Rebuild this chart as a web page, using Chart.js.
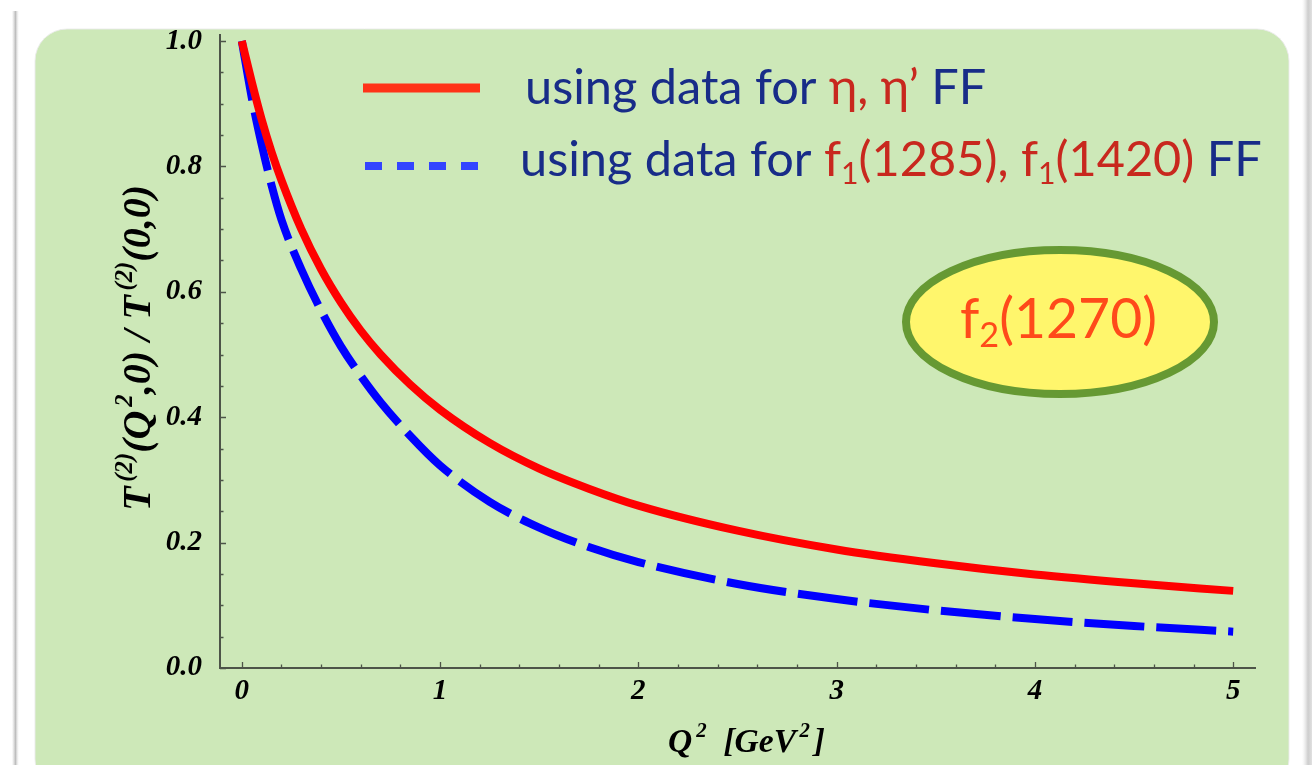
<!DOCTYPE html>
<html>
<head>
<meta charset="utf-8">
<script src="https://cdn.jsdelivr.net/npm/chart.js@4.4.1/dist/chart.umd.min.js"></script>
<style>
  html, body { margin: 0; padding: 0; background: #fff; }
  #wrap { width: 1312px; height: 765px; position: relative; }
  canvas { display: block; }
</style>
</head>
<body>
<div id="wrap"><canvas id="c" width="1312" height="765"></canvas></div>
<script>
// Q^2 grid in GeV^2
const q2 = [0, 0.05, 0.1, 0.15, 0.2, 0.3, 0.4, 0.5, 0.6, 0.7, 0.85, 1.0, 1.25, 1.5, 1.75, 2.0, 2.5, 3.0, 3.5, 4.0, 4.5, 5.0];
// T(2)(Q^2,0)/T(2)(0,0) using eta, eta' transition form factors
const etaRatio = [1.0, 0.935, 0.875, 0.823, 0.778, 0.700, 0.636, 0.583, 0.538, 0.500, 0.452, 0.412, 0.359, 0.318, 0.286, 0.259, 0.219, 0.189, 0.167, 0.149, 0.135, 0.123];
// same ratio using f1(1285), f1(1420) form factors
const f1Ratio = [1.0, 0.910, 0.835, 0.770, 0.715, 0.636, 0.570, 0.513, 0.466, 0.424, 0.370, 0.323, 0.265, 0.224, 0.193, 0.169, 0.134, 0.110, 0.092, 0.078, 0.067, 0.058];

const xTicks = [0, 1, 2, 3, 4, 5];
const yTicks = [0.0, 0.2, 0.4, 0.6, 0.8, 1.0];

const SERIF = '"Liberation Serif", "DejaVu Serif", serif';
const SANS = 'Lato, "Open Sans", "Noto Sans", sans-serif';

function toPoints(xs, ys) { return xs.map((x, i) => ({ x: x, y: ys[i] })); }

// draw a sequence of text runs (with optional sub/superscripts); returns total width
function runs(ctx, items, x, y, size, family, style, doDraw) {
  let cx = x;
  for (const it of items) {
    const s = (it.sub || it.sup) ? size * 0.62 : size;
    ctx.font = style + ' ' + s.toFixed(2) + 'px ' + family;
    const dy = it.sub ? size * 0.16 : (it.sup ? -size * 0.45 : 0);
    cx += (it.pre || 0) * size;
    if (doDraw) {
      ctx.fillStyle = it.color || '#000';
      ctx.fillText(it.t, cx, y + dy);
    }
    cx += ctx.measureText(it.t).width;
  }
  return cx - x;
}
function fitSize(ctx, items, family, style, target, base) {
  const w = runs(ctx, items, 0, 0, base, family, style, false);
  return base * target / w;
}

const backdrop = {
  id: 'backdrop',
  beforeDraw(chart) {
    const ctx = chart.ctx;
    ctx.save();
    ctx.fillStyle = '#ffffff';
    ctx.fillRect(0, 0, chart.width, chart.height);
    // slide frame edges
    let g = ctx.createLinearGradient(12, 0, 19, 0);
    g.addColorStop(0, 'rgba(200,200,200,0)');
    g.addColorStop(0.5, 'rgba(190,190,190,1)');
    g.addColorStop(1, 'rgba(230,230,230,0)');
    ctx.fillStyle = g;
    ctx.fillRect(12, 11, 7, chart.height);
    g = ctx.createLinearGradient(1302, 0, 1312, 0);
    g.addColorStop(0, 'rgba(230,230,230,0)');
    g.addColorStop(0.6, 'rgba(205,205,205,1)');
    g.addColorStop(1, 'rgba(225,225,225,1)');
    ctx.fillStyle = g;
    ctx.fillRect(1302, 0, 10, chart.height);
    // green panel
    ctx.beginPath();
    ctx.roundRect(35, 29, 1254, 762, 32);
    ctx.fillStyle = 'rgb(205,232,184)';
    ctx.fill();
    ctx.lineWidth = 1;
    ctx.strokeStyle = 'rgba(235,235,235,0.9)';
    ctx.stroke();
    ctx.restore();
  },
  beforeDatasetsDraw(chart) {
    // inward major/minor tick marks
    const ctx = chart.ctx;
    const xs = chart.scales.x, ys = chart.scales.y;
    const a = chart.chartArea;
    ctx.save();
    ctx.strokeStyle = '#4d5448';
    ctx.lineWidth = 1.3;
    ctx.beginPath();
    for (let k = 0; k <= 25; k++) {
      const v = k * 0.2;
      const px = Math.round(xs.getPixelForValue(v)) + 0.5;
      const len = (k % 5 === 0) ? 6 : 3.5;
      ctx.moveTo(px, a.bottom);
      ctx.lineTo(px, a.bottom - len);
    }
    for (let k = 0; k <= 20; k++) {
      const v = k * 0.05;
      const py = Math.round(ys.getPixelForValue(v)) + 0.5;
      const len = (k % 4 === 0) ? 6 : 3.5;
      ctx.moveTo(a.left, py);
      ctx.lineTo(a.left + len, py);
    }
    ctx.stroke();
    ctx.restore();
  },
  afterDraw(chart) {
    const ctx = chart.ctx;
    ctx.save();
    ctx.textBaseline = 'alphabetic';
    ctx.textAlign = 'left';

    // axis titles
    const st = 'italic bold';
    const xt = [{ t: 'Q' }, { t: '2', sup: true, pre: 0.12 }, { t: '  [GeV' }, { t: '2', sup: true, pre: 0.1 }, { t: ']', pre: 0.12 }];
    let sz = fitSize(ctx, xt, SERIF, st, 157, 26);
    runs(ctx, xt, 668, 752, sz, SERIF, st, true);

    const yt = [{ t: 'T' }, { t: '(2)', sup: true, pre: 0.12 }, { t: '(Q' }, { t: '2', sup: true, pre: 0.1 }, { t: ',0) / T' }, { t: '(2)', sup: true, pre: 0.12 }, { t: '(0,0)' }];
    sz = fitSize(ctx, yt, SERIF, st, 326, 24);
    ctx.save();
    ctx.translate(150, 511);
    ctx.rotate(-Math.PI / 2);
    runs(ctx, yt, 0, 0, sz, SERIF, st, true);
    ctx.restore();

    // legend
    ctx.lineCap = 'butt';
    ctx.strokeStyle = '#ff3318';
    ctx.lineWidth = 9;
    ctx.beginPath(); ctx.moveTo(363, 88); ctx.lineTo(480, 88); ctx.stroke();
    ctx.strokeStyle = '#3344ff';
    ctx.lineWidth = 8;
    ctx.setLineDash([17, 15]);
    ctx.beginPath(); ctx.moveTo(365, 166); ctx.lineTo(480, 166); ctx.stroke();
    ctx.setLineDash([]);

    const navy = '#182c88', dred = '#c8281e';
    const l1 = [{ t: 'using data for ', color: navy }, { t: 'η, η’', color: dred }, { t: ' FF', color: navy }];
    const l2 = [{ t: 'using data for ', color: navy }, { t: 'f', color: dred }, { t: '1', sub: true, color: dred },
                { t: '(1285), f', color: dred }, { t: '1', sub: true, color: dred }, { t: '(1420)', color: dred }, { t: ' FF', color: navy }];
    const lsz = fitSize(ctx, l2, SANS, 'normal', 742, 44);
    runs(ctx, l1, 525, 104, lsz, SANS, 'normal', true);
    runs(ctx, l2, 520, 176, lsz, SANS, 'normal', true);

    // particle tag
    ctx.beginPath();
    ctx.ellipse(1060, 322, 154, 72, 0, 0, Math.PI * 2);
    ctx.fillStyle = '#fff66c';
    ctx.fill();
    ctx.lineWidth = 8;
    ctx.strokeStyle = '#669933';
    ctx.stroke();
    const tag = [{ t: 'f', color: '#ff4a1a' }, { t: '2', sub: true, color: '#ff4a1a' }, { t: '(1270)', color: '#ff4a1a' }];
    const tsz = fitSize(ctx, tag, SANS, 'normal', 197, 58);
    runs(ctx, tag, 960, 338, tsz, SANS, 'normal', true);
    ctx.restore();
  }
};

const tickFont = { family: SERIF, style: 'italic', weight: 'bold', size: 29 };

new Chart(document.getElementById('c'), {
  type: 'line',
  data: {
    datasets: [
      {
        label: 'using data for η, η’ FF',
        data: toPoints(q2, etaRatio),
        borderColor: '#ff0000',
        borderWidth: 8,
        pointRadius: 0,
        cubicInterpolationMode: 'monotone',
        borderCapStyle: 'butt',
        fill: false
      },
      {
        label: 'using data for f1(1285), f1(1420) FF',
        data: toPoints(q2, f1Ratio),
        borderColor: '#0000ff',
        borderWidth: 8,
        borderDash: [60, 12],
        pointRadius: 0,
        cubicInterpolationMode: 'monotone',
        borderCapStyle: 'butt',
        fill: false
      }
    ]
  },
  options: {
    responsive: false,
    devicePixelRatio: 1,
    animation: false,
    layout: { padding: { top: 28, right: 57, left: 0, bottom: 0 } },
    plugins: { legend: { display: false }, tooltip: { enabled: false } },
    scales: {
      x: {
        type: 'linear',
        min: -0.11,
        max: 5.11,
        grid: { display: false, drawTicks: false },
        border: { display: true, color: '#4d5448', width: 2 },
        ticks: { font: tickFont, color: '#000', padding: 6, callback: v => String(v) },
        afterBuildTicks: s => { s.ticks = xTicks.map(v => ({ value: v })); },
        afterFit: s => { s.height = 97; }
      },
      y: {
        type: 'linear',
        min: 0,
        max: 1.009,
        grid: { display: false, drawTicks: false },
        border: { display: true, color: '#4d5448', width: 2 },
        ticks: { font: tickFont, color: '#000', padding: 18, callback: v => v.toFixed(1) },
        afterBuildTicks: s => { s.ticks = yTicks.map(v => ({ value: v })); },
        afterFit: s => { s.width = 220; }
      }
    }
  },
  plugins: [backdrop]
});
</script>
</body>
</html>
